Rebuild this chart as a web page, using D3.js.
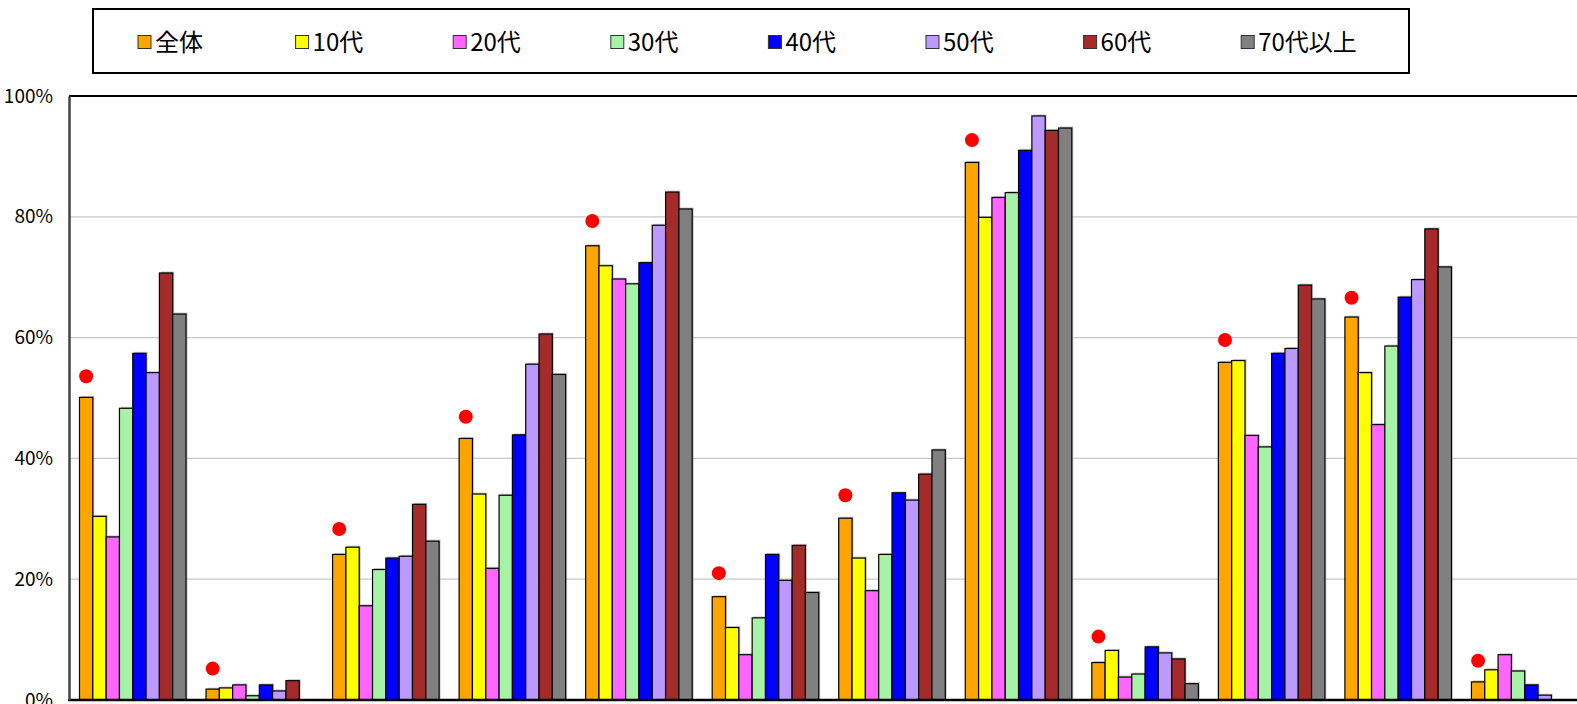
<!DOCTYPE html>
<html>
<head>
<meta charset="utf-8">
<script src="https://cdn.jsdelivr.net/npm/d3@7"></script>
<style>
  html, body { margin: 0; padding: 0; background: #fff; overflow: hidden; }
  svg { display: block; }
  text { font-family: "Noto Sans CJK JP", "Noto Sans", sans-serif; fill: #000; }
</style>
</head>
<body>
<svg id="chart" width="1577" height="704"></svg>
<script>
// Question items (x categories)
const categories = ["項目1", "項目2", "項目3", "項目4", "項目5", "項目6",
                    "項目7", "項目8", "項目9", "項目10", "項目11", "項目12"];

// Age groups shown in the legend
const seriesNames = ["全体", "10代", "20代", "30代", "40代", "50代", "60代", "70代以上"];
const seriesColors = ["#FFA500", "#FFFF00", "#FF66FF", "#A6F2A6", "#0000FF", "#BB99FF", "#A52A2A", "#808080"];

// Percent values per age group, one entry per item
const total   = [50.1, 1.8, 24.1, 43.3, 75.2, 17.1, 30.1, 89.0, 6.2, 55.9, 63.4, 3.0];
const age10   = [30.4, 2.0, 25.3, 34.1, 71.9, 12.0, 23.5, 79.9, 8.2, 56.2, 54.2, 5.0];
const age20   = [27.0, 2.5, 15.6, 21.8, 69.7,  7.5, 18.1, 83.2, 3.8, 43.8, 45.6, 7.5];
const age30   = [48.3, 0.7, 21.6, 33.9, 68.9, 13.6, 24.1, 84.0, 4.3, 41.9, 58.6, 4.8];
const age40   = [57.4, 2.5, 23.5, 43.9, 72.4, 24.1, 34.3, 91.0, 8.8, 57.4, 66.7, 2.5];
const age50   = [54.2, 1.5, 23.8, 55.6, 78.6, 19.8, 33.1, 96.7, 7.8, 58.2, 69.6, 0.8];
const age60   = [70.7, 3.2, 32.4, 60.6, 84.1, 25.6, 37.4, 94.3, 6.8, 68.7, 78.0, 0.0];
const age70up = [63.9, 0.0, 26.3, 53.9, 81.3, 17.8, 41.4, 94.7, 2.7, 66.4, 71.7, 0.0];

// Previous survey (overall) shown as red dots
const prevTotal = [53.6, 5.2, 28.3, 46.9, 79.3, 21.0, 33.9, 92.7, 10.5, 59.6, 66.6, 6.5];

// Y axis ticks
const yTicks = [0, 20, 40, 60, 80, 100];

const seriesValues = [total, age10, age20, age30, age40, age50, age60, age70up];

const svg = d3.select("#chart");
const W = 1577, H = 704;

const plotLeft = 69, plotTop = 96, plotBottom = 700;

const x0 = d3.scaleBand()
  .domain(categories)
  .range([69.5, 69.5 + 12 * 126.54])
  .paddingInner(0.158)
  .paddingOuter(0.079);

const x1 = d3.scaleBand()
  .domain(seriesNames)
  .range([0, x0.bandwidth()])
  .padding(0);

const y = d3.scaleLinear().domain([0, 100]).range([plotBottom, plotTop]);

// gridlines
svg.append("g")
  .selectAll("line")
  .data(yTicks.filter(t => t > 0 && t < 100))
  .join("line")
  .attr("x1", plotLeft).attr("x2", W)
  .attr("y1", d => y(d)).attr("y2", d => y(d))
  .attr("stroke", "#c8c8c8").attr("stroke-width", 1.2);

// top border of the plot
svg.append("line")
  .attr("x1", plotLeft).attr("x2", W)
  .attr("y1", plotTop).attr("y2", plotTop)
  .attr("stroke", "#000").attr("stroke-width", 2);

// bars
const rows = categories.map((c, i) => ({
  cat: c,
  vals: seriesNames.map((s, j) => ({ s, j, v: seriesValues[j][i] }))
}));

const groups = svg.append("g")
  .selectAll("g")
  .data(rows)
  .join("g")
  .attr("transform", d => `translate(${x0(d.cat)},0)`);

// soft shadow behind each bar
groups.selectAll("rect.shadow")
  .data(d => d.vals.filter(v => v.v > 0))
  .join("rect")
  .attr("class", "shadow")
  .attr("x", d => x1(d.s) + 1.5)
  .attr("y", d => y(d.v) - 1.5)
  .attr("width", x1.bandwidth())
  .attr("height", d => plotBottom - y(d.v))
  .attr("fill", "#9a9a9a")
  .attr("opacity", 0.55);

groups.selectAll("rect.bar")
  .data(d => d.vals.filter(v => v.v > 0))
  .join("rect")
  .attr("class", "bar")
  .attr("x", d => x1(d.s))
  .attr("y", d => y(d.v))
  .attr("width", x1.bandwidth())
  .attr("height", d => plotBottom - y(d.v))
  .attr("fill", d => seriesColors[d.j])
  .attr("stroke", "#000")
  .attr("stroke-width", 1.2);

// previous-survey dots above the overall bar
svg.append("g")
  .selectAll("circle")
  .data(categories.map((c, i) => ({ c, v: prevTotal[i] })))
  .join("circle")
  .attr("cx", d => x0(d.c) + x1(seriesNames[0]) + x1.bandwidth() / 2)
  .attr("cy", d => y(d.v))
  .attr("r", 7)
  .attr("fill", "#FF0000");

// baseline
svg.append("line")
  .attr("x1", plotLeft - 1).attr("x2", W)
  .attr("y1", plotBottom).attr("y2", plotBottom)
  .attr("stroke", "#000").attr("stroke-width", 2.5);

// y axis
const yAxis = d3.axisLeft(y)
  .tickValues(yTicks)
  .tickSize(0)
  .tickPadding(16)
  .tickFormat(d => d + "%");

const gy = svg.append("g")
  .attr("transform", `translate(${plotLeft},0)`)
  .call(yAxis);
gy.select(".domain").attr("stroke", "#444").attr("stroke-width", 2.5);
gy.selectAll("text")
  .attr("font-size", 19)
  .attr("font-family", "'Liberation Sans Narrow', 'DejaVu Sans Condensed', 'Noto Sans CJK JP', sans-serif")
  .attr("fill", "#000");

// legend
const legend = svg.append("g");
legend.append("rect")
  .attr("x", 93).attr("y", 9)
  .attr("width", 1316).attr("height", 64)
  .attr("fill", "#fff")
  .attr("stroke", "#000").attr("stroke-width", 2);

const lx = d3.scalePoint()
  .domain(seriesNames)
  .range([138, 138 + 7 * 157.6]);

const items = legend.selectAll("g.item")
  .data(seriesNames)
  .join("g")
  .attr("class", "item")
  .attr("transform", d => `translate(${lx(d)},42)`);

items.append("rect")
  .attr("x", 0).attr("y", -6.5)
  .attr("width", 13).attr("height", 13)
  .attr("fill", (d, i) => seriesColors[i])
  .attr("stroke", "#333").attr("stroke-width", 1);

items.append("text")
  .attr("x", 17)
  .attr("y", 0)
  .attr("dy", "0.36em")
  .attr("font-size", 24)
  .text(d => d);
</script>
</body>
</html>
